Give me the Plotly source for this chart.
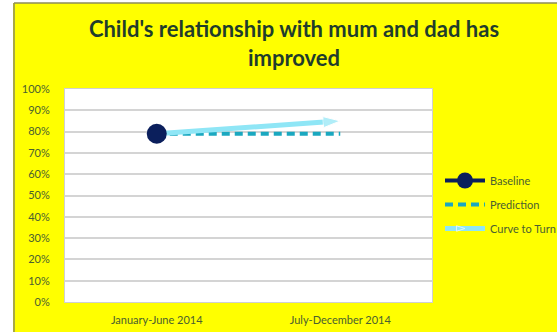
import plotly.graph_objects as go

periods = ["January-June 2014", "July-December 2014"]
baseline = [0.79]
prediction = [0.79, 0.79]
curve_to_turn = [0.79, 0.85]

title_color = "#1F3D2C"
tick_color = "#4A6030"
font_family = "Lato, Liberation Sans, sans-serif"

fig = go.Figure()

fig.add_trace(go.Scatter(
    x=periods, y=prediction, name="Prediction", mode="lines",
    line=dict(color="#1BA8C0", width=4, dash="8px,5px"),
    legendrank=2, legendgroup="prediction",
))
fig.add_trace(go.Scatter(
    x=periods, y=curve_to_turn, name="Curve to Turn", mode="lines+markers",
    line=dict(color="#8FE6F6", width=5),
    marker=dict(color="#8FE6F6", symbol="arrow", angleref="previous", size=[0, 18]),
    legendrank=3, legendgroup="curve",
))
# baseline dot drawn last so it sits above the other lines
fig.add_trace(go.Scatter(
    x=periods[:1], y=baseline, name="Baseline", mode="lines+markers",
    line=dict(color="#0B1F5C", width=4),
    marker=dict(color="#0B1F5C", size=20),
    legendrank=1, legendgroup="baseline",
))

fig.update_layout(
    width=557, height=332,
    margin=dict(l=65, r=125, t=89, b=30, autoexpand=False),
    paper_bgcolor="#FFFF00",
    plot_bgcolor="#FFFFFF",
    font=dict(family=font_family, color=tick_color, size=11),
    title=dict(
        text="<b>Child's relationship with mum and dad has<br>improved</b>",
        x=(294 / 557), xanchor="center", y=1 - 37 / 332, yanchor="middle",
        font=dict(size=22, color=title_color, family=font_family),
    ),
    showlegend=True,
    legend=dict(
        x=(440 - 65) / 367, xanchor="left", y=(302 - 166) / 213, yanchor="top",
        tracegroupgap=5,
        font=dict(size=11, color=tick_color),
        bgcolor="rgba(0,0,0,0)", itemwidth=40,
    ),
    shapes=[
        dict(type="rect", xref="paper", yref="paper",
             x0=-65 / 367, x1=-52 / 367, y0=-1, y1=2,
             fillcolor="#FFFFFF", line=dict(width=0), layer="below"),
        dict(type="rect", xref="paper", yref="paper",
             x0=-1, x1=2, y0=(302 - 3) / 213, y1=2,
             fillcolor="#FFFFFF", line=dict(width=0), layer="below"),
        dict(type="line", xref="paper", yref="paper",
             x0=-51 / 367, x1=-51 / 367, y0=-1, y1=(302 - 3) / 213,
             line=dict(color="#8C8C5A", width=1.5)),
        dict(type="line", xref="paper", yref="paper",
             x0=-51 / 367, x1=2, y0=(302 - 3) / 213, y1=(302 - 3) / 213,
             line=dict(color="#8C8C5A", width=1.5)),
    ],
)

fig.update_xaxes(
    type="category", categoryorder="array", categoryarray=periods,
    range=[-0.5, 1.5],
    showgrid=False, showline=True, linecolor="#D0D0D0", mirror=True,
    ticks="", ticklabelstandoff=8, tickfont=dict(size=11, color=tick_color),
)
fig.update_yaxes(
    range=[0, 1], dtick=0.1, tickformat=".0%",
    showgrid=True, gridcolor="#D4D4D4", gridwidth=1.5,
    showline=True, linecolor="#D0D0D0", mirror=True,
    zeroline=False, ticks="", ticklabelstandoff=12,
    tickfont=dict(size=11, color=tick_color),
)

fig.write_html("out.html")
